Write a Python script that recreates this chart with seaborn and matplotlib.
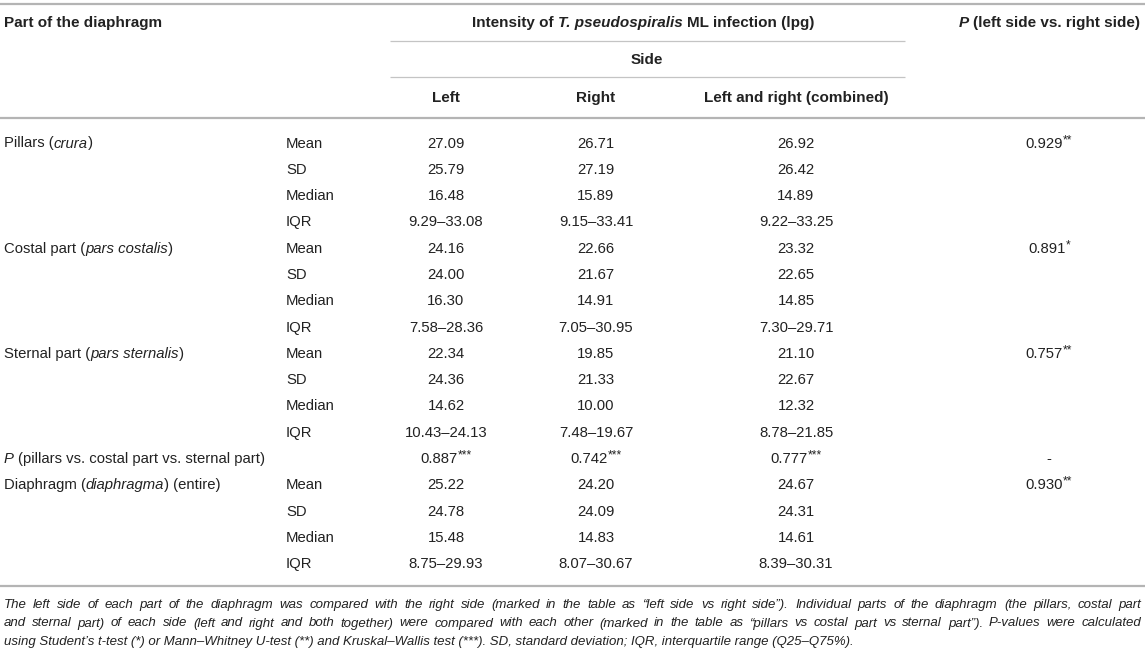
import matplotlib
matplotlib.use("Agg")
import matplotlib.pyplot as plt
import seaborn as sns

# --- Table data ---
groups = ["Pillars (_crura_)", "Costal part (_pars costalis_)",
          "Sternal part (_pars sternalis_)", "Diaphragm (_diaphragma_) (entire)"]
stats = ["Mean", "SD", "Median", "IQR"]

left_mean = [27.09, 24.16, 22.34, 25.22]
left_sd = [25.79, 24.00, 24.36, 24.78]
left_median = [16.48, 16.30, 14.62, 15.48]
left_iqr = [(9.29, 33.08), (7.58, 28.36), (10.43, 24.13), (8.75, 29.93)]

right_mean = [26.71, 22.66, 19.85, 24.20]
right_sd = [27.19, 21.67, 21.33, 24.09]
right_median = [15.89, 14.91, 10.00, 14.83]
right_iqr = [(9.15, 33.41), (7.05, 30.95), (7.48, 19.67), (8.07, 30.67)]

comb_mean = [26.92, 23.32, 21.10, 24.67]
comb_sd = [26.42, 22.65, 22.67, 24.31]
comb_median = [14.89, 14.85, 12.32, 14.61]
comb_iqr = [(9.22, 33.25), (7.30, 29.71), (8.78, 21.85), (8.39, 30.31)]

p_side = [(0.929, "**"), (0.891, "*"), (0.757, "**"), (0.930, "**")]
p_parts = [(0.887, "***"), (0.742, "***"), (0.777, "***")]

footnote = [
    "The left side of each part of the diaphragm was compared with the right side (marked in the table as \u201cleft side vs right side\u201d). Individual parts of the diaphragm (the pillars, costal part",
    "and sternal part) of each side (left and right and both together) were compared with each other (marked in the table as \u201cpillars vs costal part vs sternal part\u201d). P-values were calculated",
    "using Student\u2019s t-test (*) or Mann\u2013Whitney U-test (**) and Kruskal\u2013Wallis test (***). SD, standard deviation; IQR, interquartile range (Q25\u2013Q75%).",
]

# --- Figure setup ---
sns.set_theme(style="white")
plt.rcParams['font.family'] = ['Liberation Sans', 'DejaVu Sans']
INK = "#222222"
FS = 10.7
FS_BOLD = 11.0
FS_NOTE = 9.5

fig = plt.figure(figsize=(11.45, 6.54), dpi=100)
ax = fig.add_axes([0, 0, 1, 1])
ax.set_xlim(0, 1145)
ax.set_ylim(654, 0)
ax.axis("off")
renderer = fig.canvas.get_renderer()


def width(s, **kw):
    t1 = ax.text(0, 0, "|" + s + "|", **kw)
    t2 = ax.text(0, 0, "||", **kw)
    w = t1.get_window_extent(renderer).width - t2.get_window_extent(renderer).width
    t1.remove()
    t2.remove()
    return w


def runs(x, y, parts, ha="left"):
    # parts: list of (text, kwargs, dy)
    ws = [width(p[0], **p[1]) for p in parts]
    total = sum(ws)
    cx = x - total / 2 if ha == "center" else (x - total if ha == "right" else x)
    for (s, kw, dy), w in zip(parts, ws):
        body = s.lstrip(" ")
        lead = len(s) - len(body)
        off = width(" " * lead, **kw) if lead else 0
        if body:
            ax.text(cx + off, y + dy, body, ha="left", va="baseline", color=INK, **kw)
        cx += w


def styled(s, fs=FS, weight="normal"):
    # underscores mark italic parts
    out = []
    for i, chunk in enumerate(s.split("_")):
        if chunk:
            out.append((chunk, dict(fontsize=fs, fontweight=weight,
                                    fontstyle="italic" if i % 2 else "normal"), 0))
    return out


def starred(x, y, val, stars):
    runs(x, y, [(f"{val:.3f}", dict(fontsize=FS), 0),
                (stars, dict(fontsize=FS * 0.8), -4.5)], ha="center")


# --- Rules ---
ax.hlines([4, 118, 586], 0, 1145, color="#b4b4b4", lw=1.6)
ax.hlines([41, 77], 390, 905, color="#c4c4c4", lw=0.9)

# --- Header ---
X_LBL, X_STAT = 4, 286
X_L, X_R, X_C, X_P = 446, 596, 796, 1049
B = 5  # baseline offset from row centre

runs(X_LBL, 22 + B, styled("Part of the diaphragm", FS_BOLD, "bold"))
runs(643, 22 + B, styled("Intensity of _T. pseudospiralis_ ML infection (lpg)", FS_BOLD, "bold"), ha="center")
runs(X_P, 22 + B, styled("_P_ (left side vs. right side)", FS_BOLD, "bold"), ha="center")
runs(647, 59 + B, styled("Side", FS_BOLD, "bold"), ha="center")
for xc, lab in zip([X_L, X_R, X_C], ["Left", "Right", "Left and right (combined)"]):
    runs(xc, 97 + B, styled(lab, FS_BOLD, "bold"), ha="center")

# --- Body ---
y0, step = 142.5, 26.3
row_of_group = [0, 4, 8, 13]
cols = [
    (X_L, left_mean, left_sd, left_median, left_iqr),
    (X_R, right_mean, right_sd, right_median, right_iqr),
    (X_C, comb_mean, comb_sd, comb_median, comb_iqr),
]
for g, name in enumerate(groups):
    r0 = row_of_group[g]
    yg = y0 + step * r0 + B
    runs(X_LBL, yg, styled(name))
    for k, st in enumerate(stats):
        yk = y0 + step * (r0 + k) + B
        runs(X_STAT, yk, styled(st))
        for xc, mean, sd, med, iqr in cols:
            vals = [f"{mean[g]:.2f}", f"{sd[g]:.2f}", f"{med[g]:.2f}",
                    f"{iqr[g][0]:.2f}\u2013{iqr[g][1]:.2f}"]
            runs(xc, yk, styled(vals[k]), ha="center")
    starred(X_P, yg, *p_side[g])

# P row across parts
yp = y0 + step * 12 + B
runs(X_LBL, yp, styled("_P_ (pillars vs. costal part vs. sternal part)"))
for xc, (v, s) in zip([X_L, X_R, X_C], p_parts):
    starred(xc, yp, v, s)
runs(X_P, yp, styled("-"), ha="center")

# --- Footnote (justified) ---
note_kw = dict(fontsize=FS_NOTE, fontstyle="italic")
x_end = 1141
for i, line in enumerate(footnote):
    yb = 604 + 18.5 * i + 4
    if i < len(footnote) - 1:
        words = line.split(" ")
        ws = [width(w, **note_kw) for w in words]
        gap = (x_end - X_LBL - sum(ws)) / (len(words) - 1)
        cx = X_LBL
        for w, ww in zip(words, ws):
            ax.text(cx, yb, w, ha="left", va="baseline", color=INK, **note_kw)
            cx += ww + gap
    else:
        ax.text(X_LBL, yb, line, ha="left", va="baseline", color=INK, **note_kw)

fig.savefig("out.png", dpi=100)
